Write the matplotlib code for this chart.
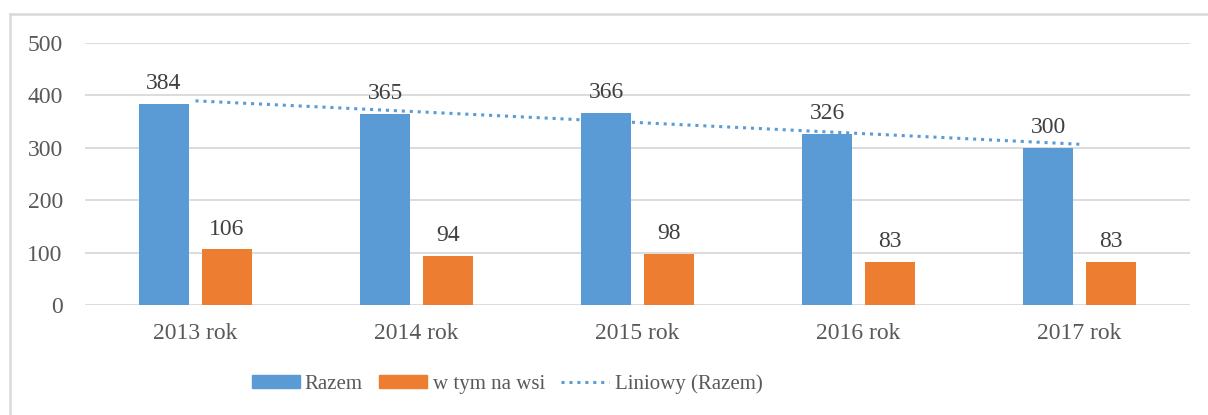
import matplotlib.pyplot as plt
import numpy as np
from matplotlib.patches import Patch
from matplotlib.lines import Line2D

plt.rcParams['font.family'] = ['Liberation Serif', 'DejaVu Serif']

categories = ['2013 rok', '2014 rok', '2015 rok', '2016 rok', '2017 rok']
razem = [384, 365, 366, 326, 300]
wsi = [106, 94, 98, 83, 83]

blue = '#5B9BD5'
orange = '#ED7D31'
txt = '#595959'
grid = '#D9D9D9'
fs = 17

W, H = 1208, 415
fig = plt.figure(figsize=(W / 100, H / 100), dpi=100)

# chart border (only left and top visible in the crop)
fig.add_artist(Line2D([10 / W, 10 / W], [0, (H - 14) / H], color=grid, linewidth=1.8))
fig.add_artist(Line2D([10 / W, 1], [(H - 14) / H, (H - 14) / H], color=grid, linewidth=1.8))

ax = fig.add_axes([85 / W, (H - 305) / H, 1105 / W, 262 / H])
x = np.arange(len(categories))
bw = 0.226
off = 0.1425

b1 = ax.bar(x - off, razem, bw, color=blue, zorder=3)
b2 = ax.bar(x + off, wsi, bw, color=orange, zorder=3)

for bars, vals in ((b1, razem), (b2, wsi)):
    for r, v in zip(bars, vals):
        ax.annotate(str(v), (r.get_x() + r.get_width() / 2, v), xytext=(0, 7),
                    textcoords='offset points', ha='center', va='bottom',
                    fontsize=fs, color='#404040', zorder=4)

# linear trendline on Razem
k, b = np.polyfit(x, razem, 1)
ax.plot(x, k * x + b, color=blue, linestyle=(0, (1, 1.6)), linewidth=2.2, zorder=5)

ax.set_xlim(-0.5, len(categories) - 0.5)
ax.set_ylim(0, 500)
ax.set_yticks(range(0, 501, 100))
ax.set_xticks(x)
ax.set_xticklabels(categories)
ax.tick_params(axis='both', length=0, labelsize=fs, labelcolor=txt)
ax.tick_params(axis='y', pad=16)
ax.tick_params(axis='x', pad=13)
ax.grid(axis='y', color=grid, linewidth=1.3, zorder=0)
for s in ax.spines.values():
    s.set_visible(False)

handles = [Patch(color=blue), Patch(color=orange),
           Line2D([0], [0], color=blue, linestyle=(0, (1, 1.6)), linewidth=2.2)]
fig.legend(handles, ['Razem', 'w tym na wsi', 'Liniowy (Razem)'], loc='center',
           bbox_to_anchor=(507 / W, (H - 384) / H), ncol=3, frameon=False,
           fontsize=15, labelcolor=txt, handlelength=2.3, handleheight=0.58,
           columnspacing=0.8, handletextpad=0.25)

fig.savefig('out.png', dpi=100)
